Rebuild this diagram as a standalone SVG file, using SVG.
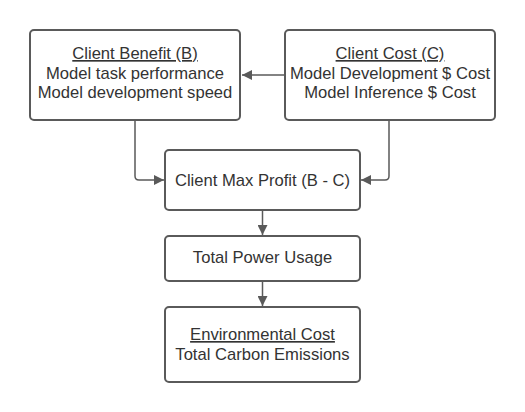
<svg xmlns="http://www.w3.org/2000/svg" width="525" height="412" viewBox="0 0 525 412">
<style>
.box{fill:#fff;stroke:#5a5a5a;stroke-width:2}
.t{font-family:"Liberation Sans",Arial,sans-serif;font-size:16.6px;fill:#333;text-anchor:middle}
.u{text-decoration:underline}
.c{fill:none;stroke:#5a5a5a;stroke-width:1.5}
</style>
<defs>
<marker id="ah" viewBox="0 0 10 10" refX="10" refY="5" markerWidth="10" markerHeight="10" markerUnits="userSpaceOnUse" orient="auto">
<path d="M0,0 L10,5 L0,10 Z" fill="#5a5a5a"/>
</marker>
</defs>
<rect width="525" height="412" fill="#fff"/>
<g id="connectors">
<path class="c" d="M285,75 H242" marker-end="url(#ah)"/>
<path class="c" d="M135,120 V176 Q135,180 139,180 H164" marker-end="url(#ah)"/>
<path class="c" d="M389,120 V176 Q389,180 385,180 H361" marker-end="url(#ah)"/>
<path class="c" d="M262.5,210 V235" marker-end="url(#ah)"/>
<path class="c" d="M262.5,281 V306" marker-end="url(#ah)"/>
</g>
<g id="benefit">
<rect class="box" x="30" y="30" width="210" height="90" rx="4"/>
<text class="t" x="135" y="59"><tspan class="u">Client Benefit (B)</tspan></text>
<text class="t" x="135" y="78.5">Model task performance</text>
<text class="t" x="135" y="98">Model development speed</text>
</g>
<g id="cost">
<rect class="box" x="285" y="30" width="210" height="90" rx="4"/>
<text class="t" x="390" y="59"><tspan class="u">Client Cost (C)</tspan></text>
<text class="t" x="390" y="78.5">Model Development $ Cost</text>
<text class="t" x="390" y="98">Model Inference $ Cost</text>
</g>
<g id="profit">
<rect class="box" x="165" y="150" width="195" height="60" rx="4"/>
<text class="t" x="262.5" y="186">Client Max Profit (B - C)</text>
</g>
<g id="power">
<rect class="box" x="165" y="236" width="195" height="45" rx="4"/>
<text class="t" x="262.5" y="263">Total Power Usage</text>
</g>
<g id="env">
<rect class="box" x="165" y="307" width="195" height="75" rx="4"/>
<text class="t" x="262.5" y="340"><tspan class="u">Environmental Cost</tspan></text>
<text class="t" x="262.5" y="360">Total Carbon Emissions</text>
</g>
</svg>
